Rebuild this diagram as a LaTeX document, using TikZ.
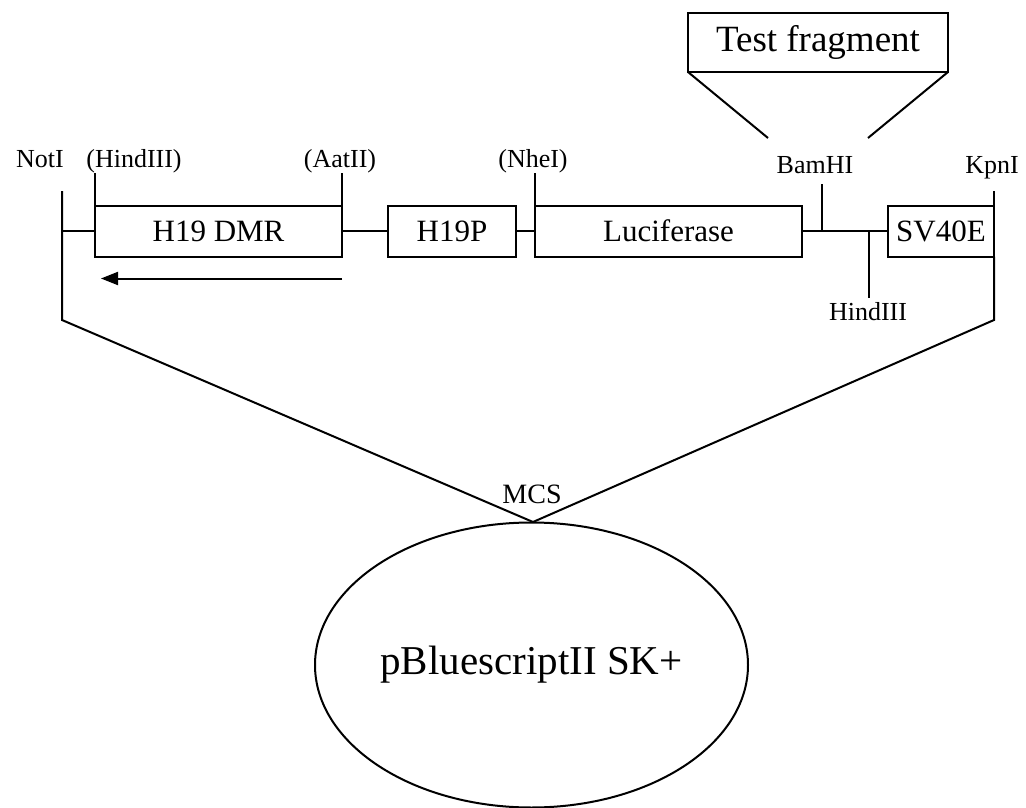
\documentclass[tikz,border=0pt]{standalone}
\usepackage{fontspec}
\setmainfont{Liberation Serif}
\usetikzlibrary{arrows.meta,positioning,shapes.geometric}
\tikzset{
  wire/.style={line width=2pt},
  seg/.style={draw, wire, minimum height=51pt, inner sep=0pt, outer sep=0pt,
    font=\fontsize{31}{31}\selectfont},
  site/.style={inner sep=0pt, anchor=base, font=\fontsize{26}{26}\selectfont},
  sense/.style={wire, -{Triangle[length=17pt, width=13pt]}},
}
\begin{document}
\begin{tikzpicture}[x=1pt, y=-1pt]
    \useasboundingbox (0,0) rectangle (1026,808);
    \node[seg, minimum width=247pt] (dmr) at (218.5,231) {H19 DMR};
    \node[seg, minimum width=128pt] (prom) at (452,231) {H19P};
    \node[seg, minimum width=267pt] (luc) at (668.5,231) {Luciferase};
    \node[seg, minimum width=106pt] (enh) at (941,231) {SV40E};
    \node[draw, wire, minimum width=260pt, minimum height=59pt, inner sep=0pt, outer sep=0pt,
      font=\fontsize{37}{37}\selectfont] (test) at (818,42.5) {Test fragment};
    \node[draw, wire, ellipse, minimum width=433pt, minimum height=285pt, inner sep=0pt,
      outer sep=0pt, font=\fontsize{41}{41}\selectfont] (vec) at (531.5,665) {pBluescriptII SK+};
    \node[site] (noti) at (40,167) {NotI};
    \node[site] (hind5) at (134,167) {(HindIII)};
    \node[site] (aat) at (340,167) {(AatII)};
    \node[site] (nhe) at (533,167) {(NheI)};
    \node[site] (bam) at (815,173) {BamHI};
    \node[site] (kpn) at (992,173) {KpnI};
    \node[site] (hind3) at (868,320) {HindIII};
    \node[site, font=\fontsize{28}{28}\selectfont] (mcs) at (532,503) {MCS};
    \coordinate (nottop) at (62,191);
    \coordinate (notbot) at (62,320);
    \coordinate (kpntop) at (994,191);
    \coordinate (kpnbot) at (994,320);
    \coordinate (apex) at (533,522);
    \coordinate (bamtop) at (822,184);
    \coordinate (bamfoot) at (822,231);
    \coordinate (hindfoot) at (869,298);
    \coordinate (hindtop) at (869,231);
    \coordinate (fragl) at (768,138);
    \coordinate (fragr) at (868,138);
    \draw[wire] (nottop) -- (notbot) -- (apex) -- (kpnbot) -- (enh.south east);
    \draw[wire] (enh.north east) -- (kpntop);
    \draw[wire] (dmr.west) -- (notbot |- dmr.west);
    \draw[wire] (dmr.north west) -- ++(0,-33);
    \draw[wire] (dmr.north east) -- ++(0,-33);
    \draw[wire] (luc.north west) -- ++(0,-33);
    \draw[wire] (dmr.east) -- (prom.west);
    \draw[wire] (prom.east) -- (luc.west);
    \draw[wire] (luc.east) -- (enh.west);
    \draw[wire] (bamfoot) -- (bamtop);
    \draw[wire] (hindtop) -- (hindfoot);
    \draw[wire] (test.south west) -- (fragl);
    \draw[wire] (test.south east) -- (fragr);
    \draw[sense] ([yshift=-22pt]dmr.south east) -- ([xshift=6pt, yshift=-22pt]dmr.south west);
  \end{tikzpicture}
\end{document}
